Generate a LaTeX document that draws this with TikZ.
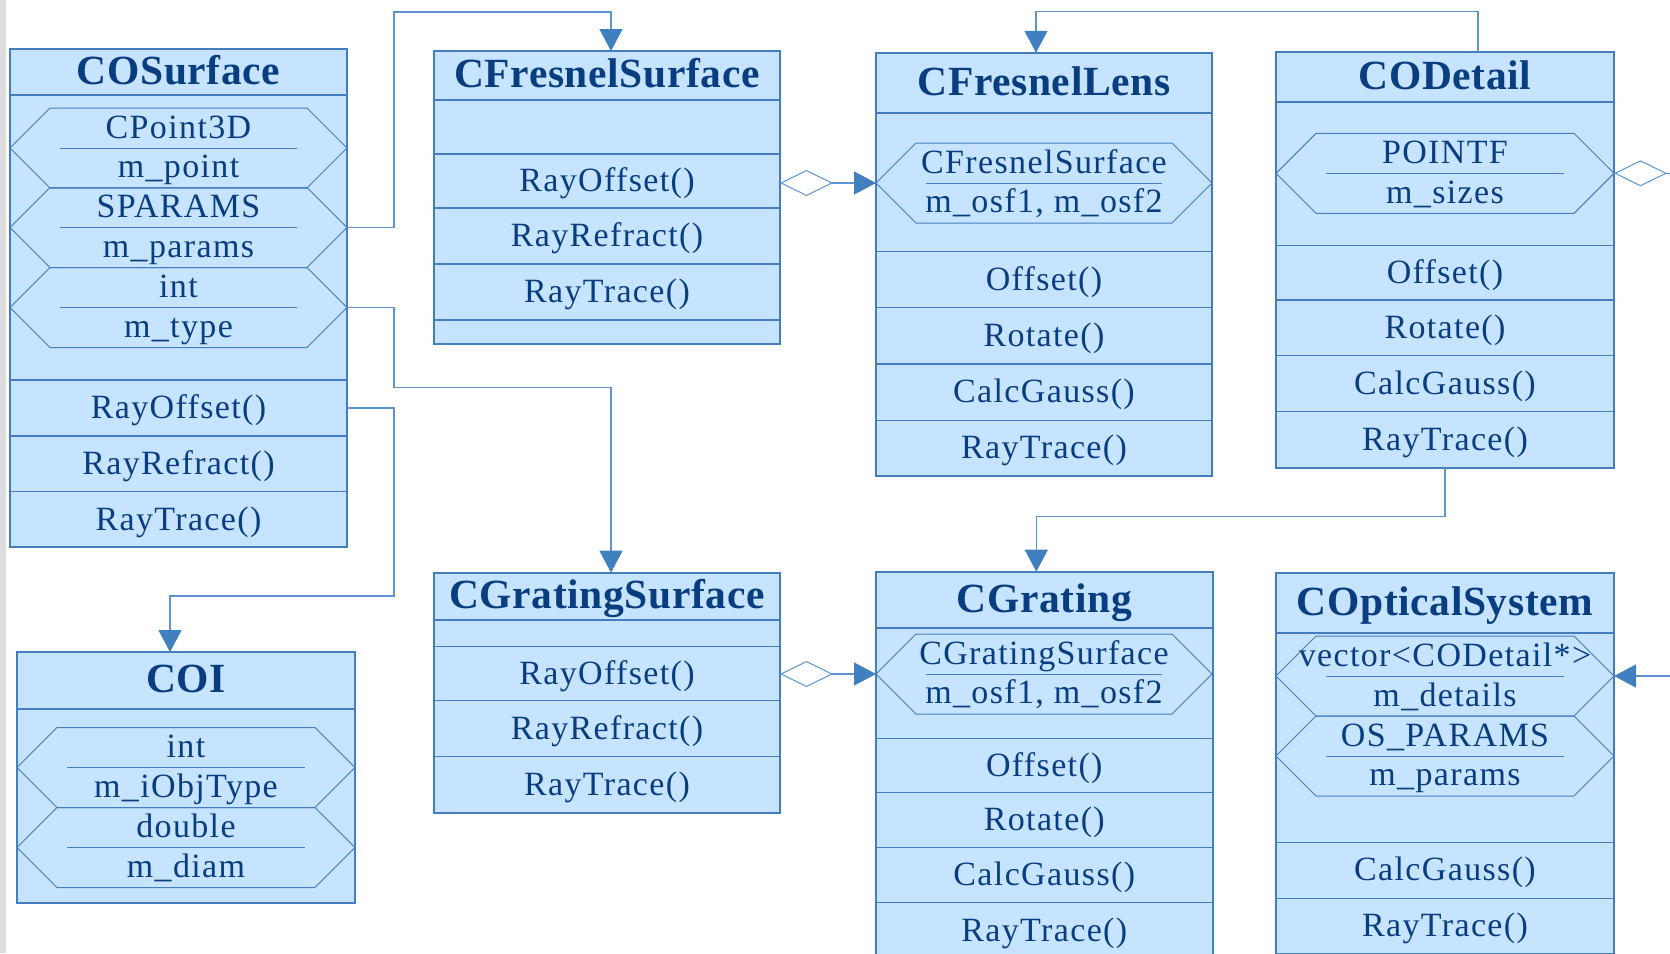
\documentclass[tikz,border=0pt]{standalone}
\usepackage{fontspec}
\setmainfont{Liberation Serif}
\newfontfamily\bodyfont{Liberation Serif}[LetterSpace=4]
\newfontfamily\headfont{Liberation Serif}[LetterSpace=1.5]
\usetikzlibrary{arrows.meta}

\definecolor{umlfill}{RGB}{198,227,255}
\definecolor{umlline}{RGB}{68,126,192}
\definecolor{umltext}{RGB}{8,62,128}
\definecolor{linkcol}{RGB}{92,148,208}
\definecolor{tipcol}{RGB}{64,128,193}
\definecolor{sidebar}{RGB}{221,221,221}

\begin{document}
\begin{tikzpicture}[
    x=1pt, y=-1pt,
    head/.style={draw=umlline, fill=umlfill, line width=2pt, inner sep=0pt, outer sep=0pt,
                 text=umltext, font=\fontsize{41.5}{48}\headfont\bfseries,
                 text height=26pt, text depth=2pt},
    part/.style={draw=umlline, fill=umlfill, line width=1.3pt, inner sep=0pt, outer sep=0pt,
                 minimum height=55.5pt, text=umltext, font=\fontsize{34}{40}\bodyfont,
                 text height=25pt, text depth=4pt},
    blank/.style={text height=0pt, text depth=0pt},
    frame/.style={draw=umlline, line width=2pt},
    field/.style={draw=umlline, line width=1pt},
    divider/.style={draw=umlline, line width=.9pt},
    attr/.style={anchor=base, inner sep=0pt, text=umltext, font=\fontsize{34}{40}\bodyfont},
    link/.style={draw=linkcol, line width=1.3pt,
                 -{Triangle[width=23pt, length=22pt, color=tipcol]}},
    agg/.style={draw=linkcol, line width=1.3pt,
                {Diamond[open, width=26pt, length=53pt, line width=1pt]}-{Triangle[width=23pt, length=22pt, color=tipcol]}}
  ]
  \path[use as bounding box] (0,0) rectangle (1670,953);
  \clip (0,0) rectangle (1670,953);
  \fill[white] (0,0) rectangle (1670,953);
  \fill[sidebar] (0,0) rectangle (6,953);

  % COSurface: three fields, three methods.
  \node[part, minimum width=337pt, minimum height=285pt] (cosurf-a) at (178.5,237.5) {};
  \node[part, minimum width=337pt, minimum height=56pt] (cosurf-m1) at (178.5,408) {RayOffset()};
  \node[part, minimum width=337pt, minimum height=56pt] (cosurf-m2) at (178.5,464) {RayRefract()};
  \node[part, minimum width=337pt] (cosurf-m3) at (178.5,519.5) {RayTrace()};
  \node[head, minimum width=337pt, minimum height=46pt] (cosurf) at (178.5,72) {COSurface};
  \draw[frame] (cosurf.north west) rectangle (cosurf-m3.south east);
  \draw[field] (10,148) -- (50,108) -- (307,108) -- (347,148) -- (307,188) -- (50,188) -- cycle;
  \draw[divider] (60,148) -- (297,148);
  \node[attr] (cosurf-t1) at (178.5,138) {CPoint3D};
  \node[attr] (cosurf-n1) at (178.5,177.5) {m\_point};
  \draw[field] (10,227.5) -- (50,187.5) -- (307,187.5) -- (347,227.5) coordinate (cosurf-f2e)
    -- (307,267.5) -- (50,267.5) -- cycle;
  \draw[divider] (60,227.5) -- (297,227.5);
  \node[attr] (cosurf-t2) at (178.5,217.5) {SPARAMS};
  \node[attr] (cosurf-n2) at (178.5,257) {m\_params};
  \draw[field] (10,307.5) -- (50,267.5) -- (307,267.5) -- (347,307.5) coordinate (cosurf-f3e)
    -- (307,347.5) -- (50,347.5) -- cycle;
  \draw[divider] (60,307.5) -- (297,307.5);
  \node[attr] (cosurf-t3) at (178.5,297.5) {int};
  \node[attr] (cosurf-n3) at (178.5,337) {m\_type};

  % CFresnelSurface: no fields, one empty row at the bottom.
  \node[part, blank, minimum width=346pt, minimum height=54pt] (cfsurf-a) at (607,127) {};
  \node[part, minimum width=346pt, minimum height=54pt] (cfsurf-m1) at (607,181) {RayOffset()};
  \node[part, minimum width=346pt, minimum height=56pt] (cfsurf-m2) at (607,236) {RayRefract()};
  \node[part, minimum width=346pt, minimum height=56pt] (cfsurf-m3) at (607,292) {RayTrace()};
  \node[part, blank, minimum width=346pt, minimum height=24pt] (cfsurf-m4) at (607,332) {};
  \node[head, minimum width=346pt, minimum height=49pt] (cfsurf) at (607,75.5) {CFresnelSurface};
  \draw[frame] (cfsurf.north west) rectangle (cfsurf-m4.south east);

  % CFresnelLens.
  \node[part, minimum width=336pt, minimum height=138.5pt] (cflens-a) at (1044,182.5) {};
  \node[part, minimum width=336pt] (cflens-m1) at (1044,279.5) {Offset()};
  \node[part, minimum width=336pt, minimum height=56.5pt] (cflens-m2) at (1044,335.7) {Rotate()};
  \node[part, minimum width=336pt, minimum height=56.5pt] (cflens-m3) at (1044,392.3) {CalcGauss()};
  \node[part, minimum width=336pt] (cflens-m4) at (1044,448.3) {RayTrace()};
  \node[head, minimum width=336pt, minimum height=60.5pt] (cflens) at (1044,83) {CFresnelLens};
  \draw[frame] (cflens.north west) rectangle (cflens-m4.south east);
  \draw[field] (876,183) coordinate (cflens-f1w) -- (916,143) -- (1172,143) -- (1212,183)
    -- (1172,223) -- (916,223) -- cycle;
  \draw[divider] (926,183) -- (1162,183);
  \node[attr] (cflens-t1) at (1044,173.5) {CFresnelSurface};
  \node[attr] (cflens-n1) at (1044,212.5) {m\_osf1, m\_osf2};

  % CODetail.
  \node[part, minimum width=338pt, minimum height=143.5pt] (codet-a) at (1445,174) {};
  \node[part, minimum width=338pt, minimum height=54.5pt] (codet-m1) at (1445,272.8) {Offset()};
  \node[part, minimum width=338pt] (codet-m2) at (1445,327.8) {Rotate()};
  \node[part, minimum width=338pt, minimum height=56pt] (codet-m3) at (1445,383.7) {CalcGauss()};
  \node[part, minimum width=338pt, minimum height=56.5pt] (codet-m4) at (1445,440) {RayTrace()};
  \node[head, minimum width=338pt, minimum height=50.5pt] (codet) at (1445,77) {CODetail};
  \draw[frame] (codet.north west) rectangle (codet-m4.south east);
  \draw[field] (1276,173.3) -- (1316,133.3) -- (1574,133.3) -- (1614,173.3) coordinate (codet-f1e)
    -- (1574,213.3) -- (1316,213.3) -- cycle;
  \draw[divider] (1326,173.3) -- (1564,173.3);
  \node[attr] (codet-t1) at (1445,163.5) {POINTF};
  \node[attr] (codet-n1) at (1445,203) {m\_sizes};

  % COI: fields only.
  \node[part, minimum width=338pt, minimum height=194pt] (coi-a) at (186,806.3) {};
  \node[head, minimum width=338pt, minimum height=57.3pt] (coi) at (186,680.7) {COI};
  \draw[frame] (coi.north west) rectangle (coi-a.south east);
  \draw[field] (17,767.5) -- (57,727.5) -- (315,727.5) -- (355,767.5) -- (315,807.5) -- (57,807.5) -- cycle;
  \draw[divider] (67,767.5) -- (305,767.5);
  \node[attr] (coi-t1) at (186,757.5) {int};
  \node[attr] (coi-n1) at (186,797) {m\_iObjType};
  \draw[field] (17,847.5) -- (57,807.5) -- (315,807.5) -- (355,847.5) -- (315,887.5) -- (57,887.5) -- cycle;
  \draw[divider] (67,847.5) -- (305,847.5);
  \node[attr] (coi-t2) at (186,837.5) {double};
  \node[attr] (coi-n2) at (186,877) {m\_diam};

  % CGratingSurface.
  \node[part, blank, minimum width=346pt, minimum height=26.7pt] (cgsurf-a) at (607,633.3) {};
  \node[part, minimum width=346pt, minimum height=54pt] (cgsurf-m1) at (607,673.7) {RayOffset()};
  \node[part, minimum width=346pt, minimum height=56pt] (cgsurf-m2) at (607,728.7) {RayRefract()};
  \node[part, minimum width=346pt, minimum height=56pt] (cgsurf-m3) at (607,784.7) {RayTrace()};
  \node[head, minimum width=346pt, minimum height=47.3pt] (cgsurf) at (607,596.3) {CGratingSurface};
  \draw[frame] (cgsurf.north west) rectangle (cgsurf-m3.south east);

  % CGrating, runs off the bottom edge.
  \node[part, minimum width=337pt, minimum height=110pt] (cgrat-a) at (1044.3,683.3) {};
  \node[part, minimum width=337pt, minimum height=54.5pt] (cgrat-m1) at (1044.3,765.5) {Offset()};
  \node[part, minimum width=337pt, minimum height=54.5pt] (cgrat-m2) at (1044.3,820) {Rotate()};
  \node[part, minimum width=337pt] (cgrat-m3) at (1044.3,875) {CalcGauss()};
  \node[part, minimum width=337pt] (cgrat-m4) at (1044.3,930.5) {RayTrace()};
  \node[head, minimum width=337pt, minimum height=56.6pt] (cgrat) at (1044.3,600) {CGrating};
  \draw[frame] (cgrat.north west) rectangle (cgrat-m4.south east);
  \draw[field] (876,674) coordinate (cgrat-f1w) -- (916,634) -- (1172,634) -- (1212,674)
    -- (1172,714) -- (916,714) -- cycle;
  \draw[divider] (926,674) -- (1162,674);
  \node[attr] (cgrat-t1) at (1044,664.5) {CGratingSurface};
  \node[attr] (cgrat-n1) at (1044,703.5) {m\_osf1, m\_osf2};

  % COpticalSystem, also cut by the bottom edge.
  \node[part, minimum width=338pt, minimum height=209.6pt] (coptsys-a) at (1445,737.5) {};
  \node[part, minimum width=338pt, minimum height=56pt] (coptsys-m1) at (1445,870.3) {CalcGauss()};
  \node[part, minimum width=338pt, minimum height=56pt] (coptsys-m2) at (1445,926.3) {RayTrace()};
  \node[head, minimum width=338pt, minimum height=59.4pt] (coptsys) at (1445,603) {COpticalSystem};
  \draw[frame] (coptsys.north west) rectangle (coptsys-m2.south east);
  \draw[field] (1276,676) -- (1316,636) -- (1574,636) -- (1614,676) coordinate (coptsys-f1e)
    -- (1574,716) -- (1316,716) -- cycle;
  \draw[divider] (1326,676) -- (1564,676);
  \node[attr] (coptsys-t1) at (1445,666) {vector<CODetail*>};
  \node[attr] (coptsys-n1) at (1445,706) {m\_details};
  \draw[field] (1276,756) -- (1316,716) -- (1574,716) -- (1614,756) -- (1574,796) -- (1316,796) -- cycle;
  \draw[divider] (1326,756) -- (1564,756);
  \node[attr] (coptsys-t2) at (1445,746.5) {OS\_PARAMS};
  \node[attr] (coptsys-n2) at (1445,785.5) {m\_params};

  % Connectors.
  \draw[link] (cosurf-f2e) -| (394,12) -| ([xshift=4pt]cfsurf.north);
  \draw[link] (cosurf-f3e) -| (394,387.5) -| ([xshift=4pt]cgsurf.north);
  \draw[link] (cosurf-m1.east) -| (394,596) -| ([xshift=-16pt]coi.north);
  \draw[link] ([xshift=33pt]codet.north) -- ++(0,-40) -| ([xshift=-8pt]cflens.north);
  \draw[link] (codet-m4.south) -- ++(0,48) -| ([xshift=-8pt]cgrat.north);
  \draw[agg] (cflens-f1w -| cfsurf-m1.east) -- (cflens-f1w);
  \draw[agg] (cgrat-f1w -| cgsurf-m1.east) -- (cgrat-f1w);
  \draw[agg] (codet-f1e) -- ++(90,0) |- (coptsys-f1e);
\end{tikzpicture}
\end{document}
